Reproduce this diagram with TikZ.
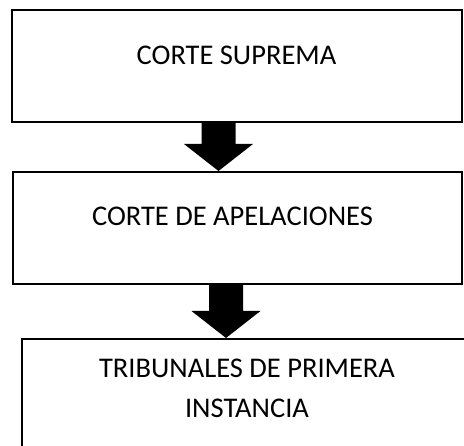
\documentclass[tikz,border=0pt]{standalone}
\usepackage{fontspec}
\setmainfont{Carlito}
\usetikzlibrary{calc}

\begin{document}
\begin{tikzpicture}[x=1pt,y=-1pt]
\tikzset{every node/.style={font=\fontsize{28.5}{40}\selectfont},
    box/.style={draw, line width=2pt, inner sep=0pt},
    blockarrow/.style={fill=black, to path={
        ($(\tikztostart)+(-17,0)$) -- ($(\tikztotarget)+(-17,-27)$)
        -- ($(\tikztotarget)+(-34.5,-27)$) -- (\tikztotarget)
        -- ($(\tikztotarget)+(34.5,-27)$) -- ($(\tikztotarget)+(17,-27)$)
        -- ($(\tikztostart)+(17,0)$) -- cycle}}}
    \clip (0,0) rectangle (464,446);

    % the three courts
    \node[box, minimum width=450pt, minimum height=112.5pt] (cs) at (237,66.25) {};
    \node[box, minimum width=449.5pt, minimum height=112.5pt] (ca) at (237.25,228.25) {};
    \node[box, minimum width=453pt, minimum height=125pt, anchor=north west] (tpi) at (20.5,338) {};

    \node (lcs) at (236.5,55.7) {CORTE SUPREMA};
    \node (lca) at (232.5,216) {CORTE DE APELACIONES};
    \node[align=center] (ltpi) at (247,388.3) {TRIBUNALES DE PRIMERA\\INSTANCIA};

    % arrows between them
    \coordinate (a1) at (218.5,122.5);
    \coordinate (a2) at (226,284.5);
    \path[blockarrow] (a1) to (a1 |- ca.north);
    \path[blockarrow] (a2) to (a2 |- tpi.north);
\end{tikzpicture}
\end{document}
